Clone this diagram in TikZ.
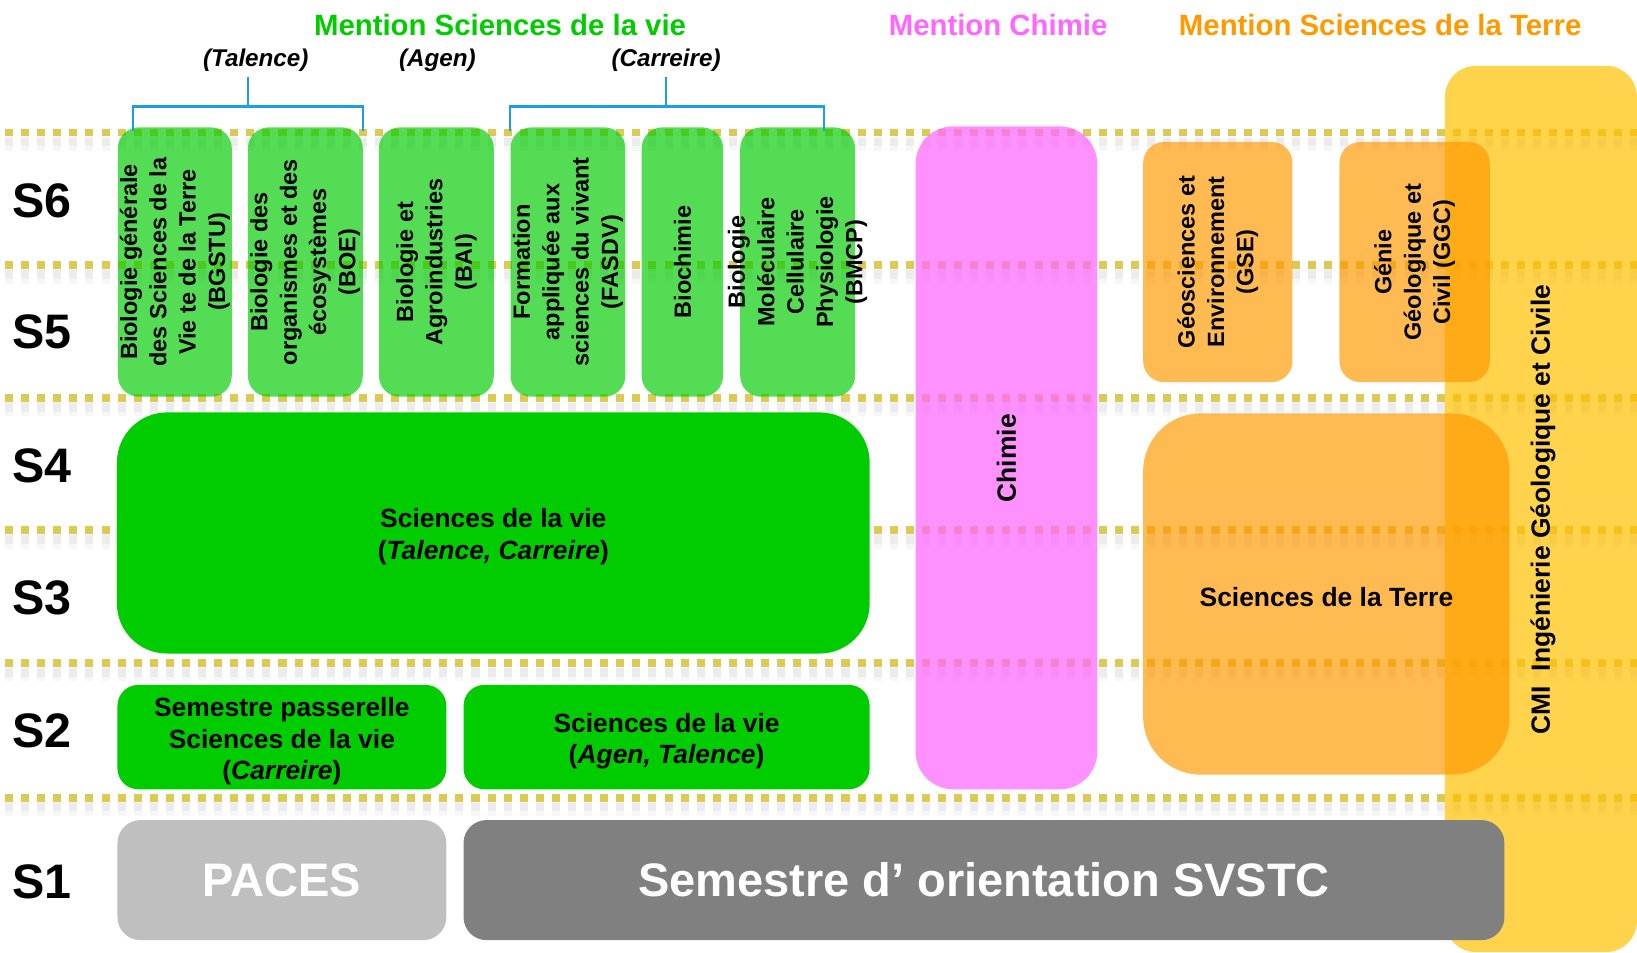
\documentclass[tikz,border=0pt]{standalone}
\usepackage{fontspec}
\setmainfont{Liberation Sans}
\usepackage{tikz}

\newdimen\pxu \pxu=0.25mm
\definecolor{vertSV}{RGB}{0,204,0}
\definecolor{roseCH}{RGB}{255,102,255}
\definecolor{orangeST}{RGB}{255,153,0}
\definecolor{jauneCMI}{RGB}{255,192,0}
\definecolor{grisclair}{RGB}{191,191,191}
\definecolor{grisfonce}{RGB}{128,128,128}
\definecolor{bleuacc}{RGB}{26,159,224}
\definecolor{pointil}{RGB}{220,202,84}

\begin{document}
\begin{tikzpicture}[x=0.25mm,y=-0.25mm,
  semestre/.style={font=\fontsize{33}{40}\selectfont\bfseries},
  mention/.style={font=\fontsize{20}{24}\selectfont\bfseries},
  site/.style={font=\fontsize{16.5}{20}\selectfont\bfseries\itshape},
  bloc/.style={inner sep=0pt, rounded corners=20\pxu, text opacity=1},
  parcours/.style={bloc, fill=vertSV, fill opacity=0.67, minimum height=258\pxu},
  vtexte/.style={rotate=90, align=center, inner sep=0pt, font=\fontsize{16}{20}\selectfont\bfseries},
  htexte/.style={align=center, font=\fontsize{18}{21.5}\selectfont\bfseries},
  grand/.style={text=white, font=\fontsize{32}{38}\selectfont\bfseries},
  accolade/.style={draw=bleuacc, line width=1.4pt},
  pointilles/.style={draw=pointil, line width=5.3pt, dash pattern=on 5.48pt off 5.48pt, dash phase=7.56pt},
  ombre/.style={draw=black, dash pattern=on 5.48pt off 5.48pt, dash phase=7.56pt}]

\useasboundingbox (0,0) rectangle (1568,912);

% lignes des semestres
\foreach \y in {127,254,381,508,635,764}{
  \draw[ombre, line width=11pt, draw opacity=0.03] (0,\y+10) -- (1568,\y+10);
  \draw[ombre, line width=6pt, draw opacity=0.045] (0,\y+9) -- (1568,\y+9);
  \draw[pointilles] (0,\y) -- (1568,\y);
}

% CMI
\node[bloc, rounded corners=30\pxu, fill=jauneCMI, fill opacity=0.7, minimum width=184\pxu, minimum height=849\pxu] (cmi) at (1476,487.5) {};

% parcours S5-S6
\node[parcours, minimum width=109\pxu] (bgstu) at (167.5,251) {};
\node[parcours, minimum width=110\pxu] (boe) at (292.5,251) {};
\node[parcours, minimum width=110\pxu] (bai) at (418,251) {};
\node[parcours, minimum width=110\pxu] (fasdv) at (544,251) {};
\node[parcours, minimum width=78\pxu] (biochimie) at (653.6,251) {};
\node[parcours, minimum width=110\pxu] (bmcp) at (764,251) {};

\node[bloc, rounded corners=36\pxu, fill=roseCH, fill opacity=0.72, minimum width=174\pxu, minimum height=635\pxu] (chimie) at (964,438.5) {};

\node[bloc, fill=orangeST, fill opacity=0.68, minimum width=143\pxu, minimum height=230\pxu] (gse) at (1166.5,251) {};
\node[bloc, fill=orangeST, fill opacity=0.68, minimum width=144\pxu, minimum height=230\pxu] (ggc) at (1355,251) {};
\node[bloc, rounded corners=55\pxu, fill=orangeST, fill opacity=0.68, minimum width=351\pxu, minimum height=346\pxu] (sdt) at (1270.5,569) {};

% licence S1-S4
\node[bloc, rounded corners=48\pxu, fill=vertSV, minimum width=721\pxu, minimum height=231\pxu] (sdv34) at (472.5,510.5) {};
\node[bloc, fill=vertSV, minimum width=315\pxu, minimum height=100\pxu] (passerelle) at (270,706) {};
\node[bloc, fill=vertSV, minimum width=389\pxu, minimum height=100\pxu] (sdv2) at (638.5,706) {};
\node[bloc, rounded corners=22\pxu, fill=grisclair, minimum width=315\pxu, minimum height=115\pxu, grand] (paces) at (270,843) {PACES};
\node[bloc, rounded corners=22\pxu, fill=grisfonce, minimum width=997\pxu, minimum height=115\pxu, grand] (orientation) at (942.5,843) {Semestre d’ orientation SVSTC};

% textes
\node[htexte] (sdt-t) at (1270.5,572) {Sciences de la Terre};
\node[htexte] (sdv34-t) at (472.5,514) {Sciences de la vie\\(\textit{Talence, Carreire})};
\node[htexte] (passerelle-t) at (270,710) {Semestre passerelle\\Sciences de la vie\\(\textit{Carreire})};
\node[htexte] (sdv2-t) at (638.5,710) {Sciences de la vie\\(\textit{Agen, Talence})};
\node[vtexte] (bgstu-t) at (bgstu) {Biologie générale\\des Sciences de la\\Vie te de la Terre\\(BGSTU)};
\node[vtexte] (boe-t) at (boe) {Biologie des\\organismes et des\\écosystèmes\\(BOE)};
\node[vtexte] (bai-t) at (bai) {Biologie et\\Agroindustries\\(BAI)};
\node[vtexte] (fasdv-t) at (fasdv) {Formation\\appliquée aux\\sciences du vivant\\(FASDV)};
\node[vtexte] (biochimie-t) at (biochimie) {Biochimie};
\node[vtexte] (bmcp-t) at (bmcp) {Biologie\\Moléculaire\\Cellulaire\\Physiologie\\(BMCP)};
\node[vtexte, font=\fontsize{18}{22}\selectfont\bfseries] (chimie-t) at (964,439) {Chimie};
\node[vtexte] (gse-t) at (gse) {Géosciences et\\Environnement\\(GSE)};
\node[vtexte] (ggc-t) at (ggc) {Génie\\Géologique et\\Civil (GGC)};
\node[vtexte, font=\fontsize{18}{22}\selectfont\bfseries] (cmi-t) at (1478,488) {CMI\ \ Ingénierie Géologique et Civile};

% mentions et sites
\node[mention, text=vertSV] (m-sdv) at (479,24) {Mention Sciences de la vie};
\node[mention, text=roseCH] (m-chimie) at (956,24) {Mention Chimie};
\node[mention, text=orangeST] (m-sdt) at (1322,24) {Mention Sciences de la Terre};
\node[site] (talence) at (245,57.5) {(Talence)};
\node[site] (agen) at (419,57.5) {(Agen)};
\node[site] (carreire) at (638,57.5) {(Carreire)};

\coordinate (tal-mid) at (237.5,102);
\coordinate (car-mid) at (638,102);
\draw[accolade] (tal-mid |- talence.south) -- (tal-mid);
\draw[accolade] ([xshift=15\pxu,yshift=-4\pxu]bgstu.north west) |- (tal-mid) -| ([yshift=-4\pxu]boe.north east);
\draw[accolade] (carreire.south) -- (car-mid);
\draw[accolade] ([yshift=-4\pxu]fasdv.north west) |- (car-mid) -| ([xshift=-30\pxu,yshift=-4\pxu]bmcp.north east);

% semestres
\foreach \s/\y in {6/192,5/318,4/446,3/573,2/700,1/845}
  \node[semestre] (s\s) at (40,\y) {S\s};
\end{tikzpicture}
\end{document}
